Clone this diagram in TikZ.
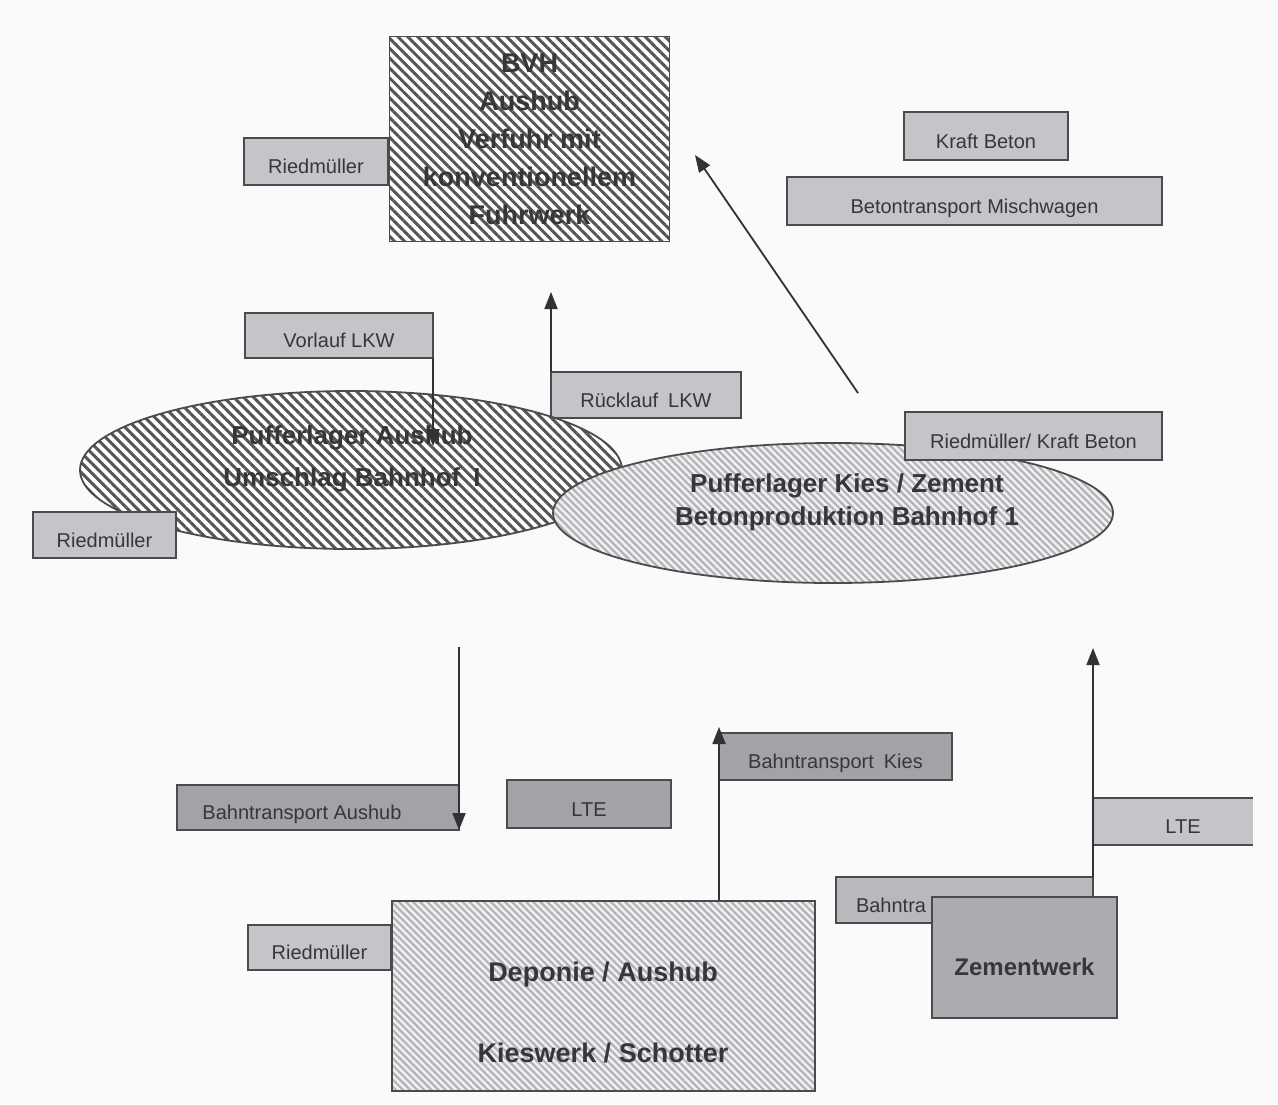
\documentclass[tikz,border=0pt]{standalone}
\usepackage{fontspec}
\setmainfont{Liberation Sans}
\usetikzlibrary{shapes.geometric,arrows.meta,patterns.meta}
\definecolor{bg}{RGB}{250,250,250}
\definecolor{bord}{RGB}{75,75,78}
\definecolor{txt}{RGB}{55,55,58}
\definecolor{lablight}{RGB}{196,196,201}
\definecolor{labmid}{RGB}{184,184,189}
\definecolor{labdark}{RGB}{162,162,167}
\definecolor{hatchdark}{RGB}{85,85,88}
\definecolor{hatchlight}{RGB}{178,178,184}
\definecolor{arrcol}{RGB}{50,50,52}
\tikzset{
  lbl/.style={draw=bord, line width=1.8pt, fill=lablight, inner sep=0pt, outer sep=0pt,
    font=\fontsize{20}{24}\selectfont, text=txt, text height=24pt, text depth=0pt},
  lblmid/.style={lbl, fill=labmid},
  lbldark/.style={lbl, fill=labdark},
  bigtext/.style={font=\fontsize{26}{30}\selectfont\bfseries, text=txt, align=center, inner sep=0pt},
  hatchd/.style={draw=bord, line width=1.8pt, preaction={fill=white},
    pattern={Lines[angle=-45,distance=7pt,line width=3pt]}, pattern color=hatchdark},
  hatchl/.style={draw=bord, line width=1.8pt, preaction={fill=white!94!black},
    pattern={Lines[angle=-45,distance=5pt,line width=2.2pt]}, pattern color=hatchlight},
  arr/.style={draw=arrcol, line width=1.8pt, -{Triangle[length=17pt,width=13pt]}}
}
\begin{document}
\begin{tikzpicture}[x=1pt,y=-1pt]
\useasboundingbox (0,0) rectangle (1278,1104);
\fill[bg] (0,0) rectangle (1278,1104);

% top block
\node[lbl, anchor=north west, minimum width=144pt, minimum height=47pt] (rm1) at (244,138) {Riedmüller};
\node[hatchd, anchor=north west, minimum width=280pt, minimum height=205pt, inner sep=0pt,
  font=\fontsize{27}{38}\selectfont\bfseries, text=txt, align=center] (bvh) at (388,35)
  {BVH\\Aushub\\Verfuhr mit\\konventionellem\\Fuhrwerk};

\node[lbl, anchor=north west, minimum width=164pt, minimum height=48pt] (kb) at (904,112) {Kraft Beton};
\node[lbl, anchor=north west, minimum width=375pt, minimum height=48pt] (bm) at (787,177) {Betontransport Mischwagen};

% middle
\node[lbl, anchor=north west, minimum width=188pt, minimum height=45pt] (vl) at (245,313) {Vorlauf LKW};
\node[lbl, anchor=north west, minimum width=190pt, minimum height=46pt] (rl) at (551,372) {Rücklauf\enspace LKW};

\node[hatchd, ellipse, minimum width=542pt, minimum height=158pt, inner sep=0pt] (e1) at (351,470) {};
\node[bigtext, font=\fontsize{26}{42}\selectfont\bfseries] (e1t) at (352,459) {Pufferlager Aushub\\Umschlag Bahnhof\enspace I};

\node[hatchl, ellipse, minimum width=560pt, minimum height=140pt, inner sep=0pt] (e2) at (833,513) {};
\node[bigtext, font=\fontsize{26}{33}\selectfont\bfseries] (e2t) at (847,502) {Pufferlager Kies / Zement\\Betonproduktion Bahnhof 1};

\node[lbl, anchor=north west, minimum width=257pt, minimum height=48pt] (rkb) at (905,412) {Riedmüller/ Kraft Beton};
\node[lbl, anchor=north west, minimum width=143pt, minimum height=46pt] (rm2) at (33,512) {Riedmüller};

% lower
\node[lbldark, anchor=north west, minimum width=282pt, minimum height=45pt] (ba) at (177,785) {Bahntransport Aushub\hspace*{32pt}};
\node[lbldark, anchor=north west, minimum width=164pt, minimum height=48pt] (lte1) at (507,780) {LTE};
\node[lbldark, anchor=north west, minimum width=233pt, minimum height=47pt] (bk) at (719,733) {Bahntransport\enspace Kies};

\node[lbl, anchor=north west, minimum width=143pt, minimum height=45pt] (rm3) at (248,925) {Riedmüller};
\node[hatchl, anchor=north west, minimum width=423pt, minimum height=190pt, inner sep=0pt] (dep) at (391,900) {};
\node[bigtext, font=\fontsize{27}{81}\selectfont\bfseries] (dept) at (603,1012) {Deponie / Aushub\\Kieswerk / Schotter};

\node[lblmid, anchor=north west, minimum width=257pt, minimum height=46pt, text width=217pt, align=left] (bz) at (836,877) {Bahntra};
\node[lbldark, fill=labdark!90!white, anchor=north west, minimum width=185pt, minimum height=121pt,
  text height=36pt, text depth=0pt,
  font=\fontsize{24}{28}\selectfont\bfseries] (zw) at (932,897) {Zementwerk};

\node[fill=lablight, anchor=north west, minimum width=160pt, minimum height=47pt, inner sep=0pt, outer sep=0pt,
  font=\fontsize{20}{24}\selectfont, text=txt, text height=24pt, text depth=0pt] (lte2) at (1093,798) {\hspace*{20pt}LTE};
\draw[bord, line width=1.8pt] (lte2.north west) -- (lte2.north east);
\draw[bord, line width=1.8pt] (lte2.south west) -- (lte2.south east);

% connectors
\coordinate (diagS) at (858,393);
\coordinate (diagT) at (695,155);
\draw[arr] (diagS) -- (diagT);

\coordinate (vlT) at (433,446);
\draw[arr] (vl.south east) -- (vlT);

\coordinate (rlT) at (551,292);
\draw[arr] (rl.north west) -- (rlT);

\coordinate (baS) at (459,647);
\draw[arr] (baS) -- (ba.south east);

\coordinate (bkT) at (719,727);
\draw[arr] (dep.north -| bk.west) -- (bkT);

\coordinate (bzT) at (1093,648);
\draw[arr] (bz.north east) -- (bzT);
\end{tikzpicture}
\end{document}
